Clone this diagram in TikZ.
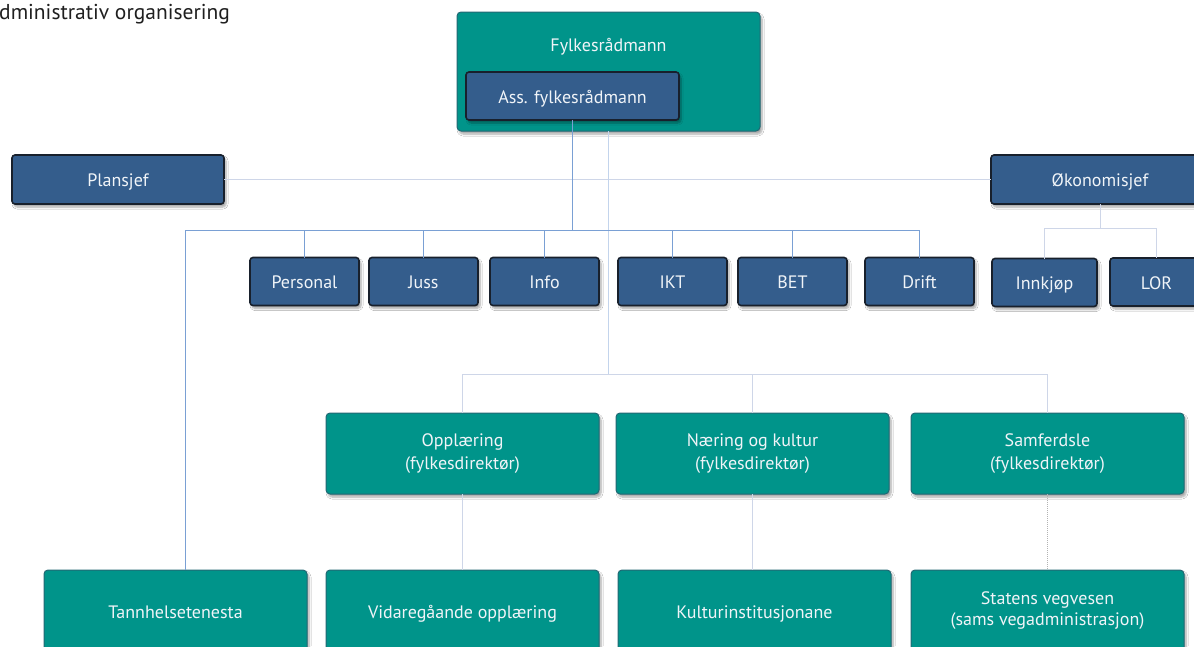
\documentclass[tikz,border=0pt]{standalone}
\usepackage{fontspec}
\setmainfont{PT Sans}
\usetikzlibrary{shadows.blur}
\definecolor{tealfill}{RGB}{0,148,138}
\definecolor{tealedge}{RGB}{34,104,116}
\definecolor{bluefill}{RGB}{52,93,140}
\definecolor{blueedge}{RGB}{24,32,44}
\definecolor{blueline}{RGB}{122,160,212}
\definecolor{paleline}{RGB}{206,214,232}
\definecolor{boxtext}{RGB}{240,244,248}
\tikzset{
  boxshadow/.style={blur shadow={shadow xshift=2pt, shadow yshift=-3pt, shadow blur steps=6, shadow blur radius=2pt, shadow opacity=35}},
  tealbox/.style={draw=tealedge, line width=1pt, fill=tealfill, rounded corners=4pt, outer sep=0pt, inner sep=0pt, text=boxtext, font=\fontsize{18}{23}\selectfont, align=center, boxshadow},
  bluebox/.style={draw=blueedge, line width=1.6pt, fill=bluefill, rounded corners=3pt, outer sep=0pt, inner sep=0pt, text=boxtext, font=\fontsize{18}{22}\selectfont, align=center, boxshadow, text height=14pt, text depth=0pt},
  oneline/.style={text height=14pt, text depth=0pt},
  small/.style={bluebox, minimum width=109, minimum height=48},
  mid/.style={tealbox, minimum width=273, minimum height=81},
  bconn/.style={draw=blueline, line width=1pt},
  pconn/.style={draw=paleline, line width=1pt},
  labeltext/.style={text=boxtext, font=\fontsize{18}{22}\selectfont, inner sep=0pt, oneline},
}
\begin{document}
\begin{tikzpicture}[x=1pt,y=-1pt]
\clip (0,0) rectangle (1194,646);
\fill[white] (0,0) rectangle (1194,646);

% title
\node[anchor=west, inner sep=0pt, font=\fontsize{21.5}{25}\selectfont, text=black!88] (title) at (-1,14) {dministrativ organisering};

\coordinate (busA) at (0,230);
\coordinate (busB) at (0,374);
\coordinate (busC) at (0,228);

% boxes
\node[tealbox, minimum width=303, minimum height=119] (fyl) at (608.5,71.5) {};
\node[labeltext] (fyltxt) at (608.5,44) {Fylkesrådmann};
\node[bluebox, minimum width=213, minimum height=48] (ass) at (572.5,96) {Ass. fylkesrådmann};

\node[bluebox, minimum width=212, minimum height=49] (plan) at (118,179.5) {Plansjef};
\node[bluebox, minimum width=218, minimum height=49] (oko) at (1100,179.5) {Økonomisjef};

\node[small] (pers) at (304.5,281.5) {Personal};
\node[small] (juss) at (423.5,281.5) {Juss};
\node[small] (info) at (544.5,281.5) {Info};
\node[small] (ikt)  at (672.5,281.5) {IKT};
\node[small] (bet)  at (792.5,281.5) {BET};
\node[small] (drift) at (919.5,281.5) {Drift};
\node[bluebox, minimum width=105, minimum height=48] (innk) at (1044.5,282.5) {Innkjøp};
\node[bluebox, minimum width=93, minimum height=48] (lor) at (1156.5,282) {LOR};

\node[mid] (opp) at (462.5,453.5) {Opplæring\\(fylkesdirektør)};
\node[mid] (nar) at (752.5,453.5) {Næring og kultur\\(fylkesdirektør)};
\node[mid] (sam) at (1047.5,453.5) {Samferdsle\\(fylkesdirektør)};

\node[tealbox, oneline, minimum width=263, minimum height=82] (tann) at (175.5,611) {Tannhelsetenesta};
\node[mid, oneline, minimum height=82] (vid) at (462.5,611) {Vidaregåande opplæring};
\node[mid, oneline, minimum height=82] (kul) at (754.5,611) {Kulturinstitusjonane};
\node[mid, minimum height=82, font=\fontsize{18}{21}\selectfont] (stat) at (1047.5,611) {Statens vegvesen\\(sams vegadministrasjon)};

% connectors
\draw[pconn] (plan.east) -- (oko.west);
\draw[pconn, draw=blueline!45] (fyl.south) -- (fyl.south |- busB);
\draw[bconn] (ass.south) -- (ass.south |- busA);
\draw[bconn] ([xshift=9.5pt]tann.north) |- (drift.north |- busA) -- (drift.north);
\foreach \n in {pers,juss,info,ikt,bet}{
  \draw[bconn] (\n.north) -- (\n.north |- busA);
}
\draw[pconn] (oko.south) -- (oko.south |- busC);
\draw[pconn] (innk.north) |- (lor.north |- busC) -- (lor.north);
\draw[pconn] (opp.north) |- (sam.north |- busB) -- (sam.north);
\draw[pconn] (nar.north) -- (nar.north |- busB);
\draw[pconn] (opp.south) -- (vid.north);
\draw[pconn] (nar.south) -- (nar.south |- kul.north);
\draw[pconn, densely dotted, draw=black!30] (sam.south) -- (stat.north);
\end{tikzpicture}
\end{document}
